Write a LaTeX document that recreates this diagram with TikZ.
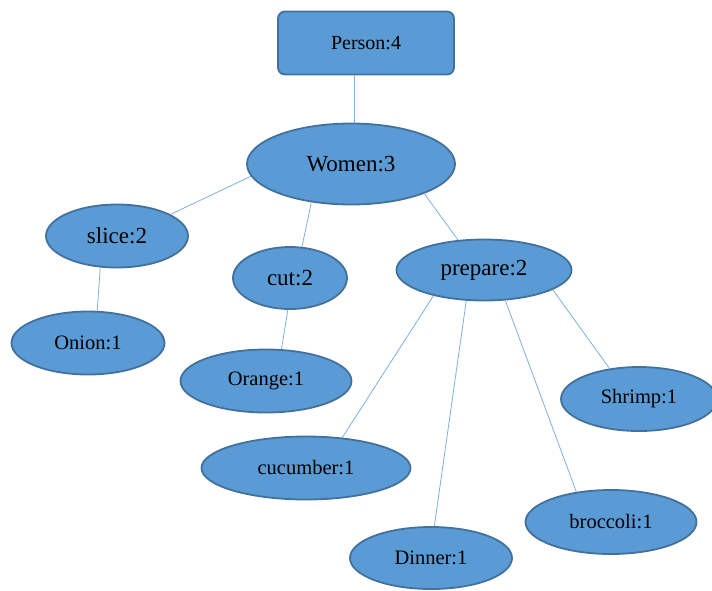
\documentclass[tikz,border=0pt]{standalone}
\usepackage{fontspec}
\setmainfont{Liberation Serif}
\usetikzlibrary{shapes.geometric}
\definecolor{nfill}{HTML}{5B9BD5}
\definecolor{nborder}{HTML}{41719C}
\definecolor{edgec}{HTML}{7EB0DE}
\tikzset{
  big/.style={ellipse,draw=nborder,fill=nfill,line width=1.8pt,inner sep=0pt,font=\fontsize{23}{25}\selectfont},
  leaf/.style={ellipse,draw=nborder,fill=nfill,line width=1.8pt,inner sep=0pt,font=\fontsize{20.5}{23}\selectfont},
  boxn/.style={rectangle,rounded corners=7pt,draw=nborder,fill=nfill,line width=1.8pt,inner sep=0pt,font=\fontsize{20}{23}\selectfont},
  conn/.style={draw=edgec,line width=0.8pt}
}
\begin{document}
\begin{tikzpicture}[x=1pt,y=-1pt]
\useasboundingbox (0,0) rectangle (712,590);
\clip (0,0) rectangle (712,590);
\node[boxn,minimum width=176pt,minimum height=63pt] (person) at (366,43) {Person:4};
\node[big,minimum width=208pt,minimum height=81pt] (women) at (351,164) {Women:3};
\node[big,minimum width=142pt,minimum height=63pt] (slice) at (117,236) {slice:2};
\node[big,minimum width=114pt,minimum height=62pt] (cut) at (290,278) {cut:2};
\node[big,minimum width=175pt,minimum height=61pt] (prepare) at (484,270) {prepare:2};
\node[leaf,minimum width=153pt,minimum height=63pt] (onion) at (88,343) {Onion:1};
\node[leaf,minimum width=171pt,minimum height=63pt] (orange) at (266,381) {Orange:1};
\node[leaf,minimum width=156pt,minimum height=64pt] (shrimp) at (639,399) {Shrimp:1};
\node[leaf,minimum width=209pt,minimum height=63pt] (cucumber) at (306,468) {cucumber:1};
\node[leaf,minimum width=171pt,minimum height=64pt] (broccoli) at (611,522) {broccoli:1};
\node[leaf,minimum width=162pt,minimum height=62pt] (dinner) at (431,558) {Dinner:1};
\draw[conn] (person.251) -- (person.251 |- women.north);
\draw[conn] (women.187) -- (slice.22);
\draw[conn] (women.224) -- (cut.69);
\draw[conn] (women.338) -- (prepare.131);
\draw[conn] (slice.242) -- (onion.74);
\draw[conn] (cut.266) -- (orange.64);
\draw[conn] (prepare.207) -- (cucumber.40);
\draw[conn] (prepare.240) -- (dinner.84);
\draw[conn] (prepare.305) -- (broccoli.139);
\draw[conn] (prepare.344) -- (shrimp.134);
\end{tikzpicture}
\end{document}
